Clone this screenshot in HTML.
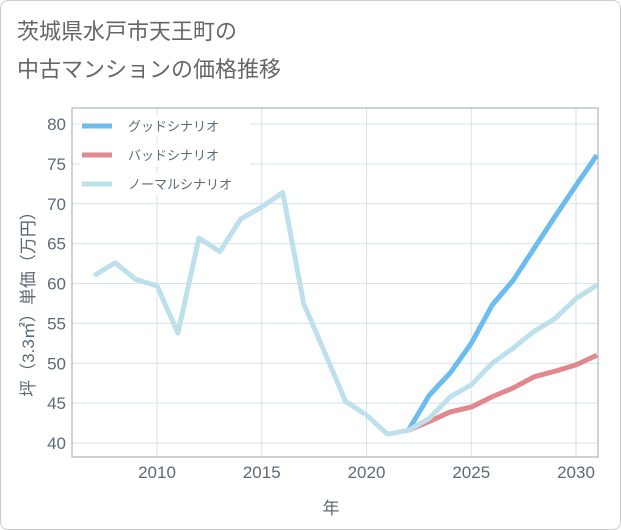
<!DOCTYPE html>
<html><head><meta charset="utf-8"><style>
body{margin:0;background:#fff;font-family:"Liberation Sans","Noto Sans CJK JP",sans-serif}
#wrap{position:relative;width:619px;height:528px;border:1px solid #ccc;border-radius:8px;overflow:hidden}
</style></head><body>
<div id="wrap">
<svg id="chart" width="621" height="530" style="position:absolute;left:-1px;top:-1px"></svg>
</div>
<script>
const years=[2007,2008,2009,2010,2011,2012,2013,2014,2015,2016,2017,2018,2019,2020,2021,2022];
const histValues=[61.0,62.6,60.5,59.7,53.8,65.7,64.0,68.1,69.6,71.4,57.5,51.4,45.2,43.5,41.1,41.6];
const futureYears=[2022,2023,2024,2025,2026,2027,2028,2029,2030,2031];
const goodValues=[41.6,46.0,48.8,52.5,57.3,60.4,64.4,68.4,72.3,76.1];
const badValues=[41.6,42.7,43.9,44.5,45.8,46.9,48.3,49.0,49.8,51.0];
const normalValues=[41.6,43.1,45.8,47.3,50.0,51.9,54.0,55.6,58.1,59.8];
const yTicks=[40,45,50,55,60,65,70,75,80];
const xTicks=[2010,2015,2020,2025,2030];
const legendLabels=["グッドシナリオ","バッドシナリオ","ノーマルシナリオ"];

const NS="http://www.w3.org/2000/svg";
const svg=document.getElementById('chart');
const L=72,R=598,T=108,B=457;
const xs=y=>157+(y-2010)*(576-157)/20;
const ys=v=>124+(80-v)*(443-124)/40;
function el(t,a,p){const e=document.createElementNS(NS,t);for(const k in a)e.setAttribute(k,a[k]);(p||svg).appendChild(e);return e;}

const t1=el('text',{x:17,y:39,'font-size':22,fill:'#666'});t1.textContent='茨城県水戸市天王町の';


const t2=el('text',{x:17,y:77,'font-size':22,fill:'#666'});t2.textContent='中古マンションの価格推移';



for(const v of yTicks){
 const g=el('line',{x1:L,x2:R,y1:ys(v),y2:ys(v),stroke:'#d5e3ec','stroke-width':1});
 
 
 const t=el('text',{x:L-6,y:ys(v)+6,'font-size':17,fill:'#5a6a78','text-anchor':'end'});t.textContent=v;
 
 
}
for(const y of xTicks){
 const g=el('line',{x1:xs(y),x2:xs(y),y1:T,y2:B,stroke:'#d5e3ec','stroke-width':1});
 
 
 const t=el('text',{x:xs(y),y:478,'font-size':17,fill:'#5a6a78','text-anchor':'middle'});t.textContent=y;
 
 
}
const frame=el('rect',{x:L,y:T,width:R-L,height:B-T,fill:'none',stroke:'#9aa8b4','stroke-width':1});



const clip=el('clipPath',{id:'c'});el('rect',{x:L,y:T,width:R-L,height:B-T},clip);
function line(xa,va,color,name){
 const p=el('polyline',{points:xa.map((x,i)=>xs(x)+','+ys(va[i])).join(' '),fill:'none',stroke:color,'stroke-width':5,'stroke-linejoin':'round','clip-path':'url(#c)'});
 
 
}
line(futureYears,goodValues,'#6cbcf0','good-scenario-line');
line(futureYears,badValues,'#e0888e','bad-scenario-line');
line(years,histValues,'#bee0ec','historical-line');
line(futureYears,normalValues,'#bee0ec','normal-scenario-line');

const lc=['#6cbcf0','#e0888e','#bee0ec'];
legendLabels.forEach((s,i)=>{
 const y=126+i*29;
 const bg=el('rect',{x:80,y:y-11,width:170,height:22,fill:'#fff'});
 
 
 const l=el('line',{x1:82,x2:112,y1:y,y2:y,stroke:lc[i],'stroke-width':5});
 
 
 const t=el('text',{x:128,y:y+5,'font-size':13,fill:'#5a6a78'});t.textContent=s;
 
 
});

const yt=el('text',{x:0,y:0,'font-size':17,fill:'#5a6a78','text-anchor':'middle',transform:'translate(34,300) rotate(-90)'});yt.textContent='坪（3.3㎡）単価（万円）';


const xt=el('text',{x:331,y:514,'font-size':17,fill:'#5a6a78','text-anchor':'middle'});xt.textContent='年';


</script>
</body></html>
